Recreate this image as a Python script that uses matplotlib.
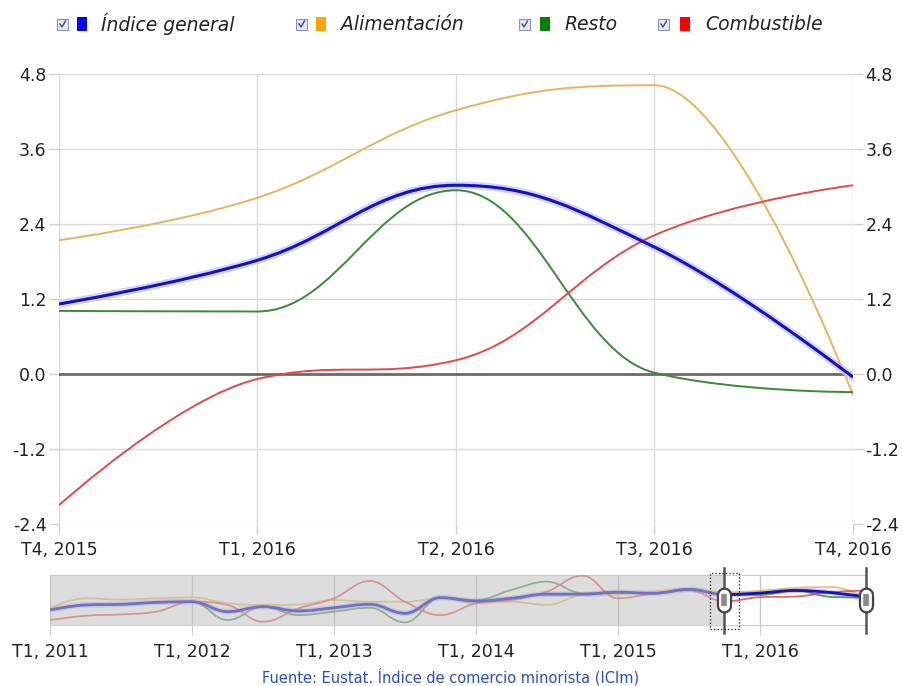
import matplotlib
matplotlib.use("Agg")
import matplotlib.pyplot as plt
from matplotlib.path import Path
from matplotlib.patches import PathPatch, Rectangle
from matplotlib.lines import Line2D
import matplotlib.transforms as mtrans
import numpy as np

# quarterly year-on-year change, T1 2011 .. T4 2016
nav_general = [-6.0, -3.7, -3.4, -2.5, -2.2, -6.8, -4.5, -6.5, -5.0, -3.4, -7.6, -0.3,
               -1.9, -0.6, 1.3, 1.3, 2.2, 1.7, 3.5, 1.12, 1.82, 3.02, 2.03, -0.05]
nav_alim = [-5.0, -0.6, -1.2, -0.6, -0.2, -2.9, -3.7, -3.5, -1.4, -2.2, -2.2, -0.6,
            -2.9, -2.2, -3.7, 0.9, 1.2, 2.5, 3.7, 2.14, 2.82, 4.22, 4.62, -0.34]
nav_resto = [-6.0, -3.7, -3.4, -2.5, -2.2, -10.7, -4.5, -8.4, -6.8, -5.0, -11.8, -0.3,
             -1.4, 3.3, 7.1, 1.7, 2.2, 1.7, 3.7, 1.01, 1.0, 2.94, 0.02, -0.29]
nav_comb = [-10.7, -8.7, -8.1, -6.8, -2.2, -3.7, -11.5, -5.3, -0.6, 7.4, -2.2, -8.4,
            -2.9, -1.4, 2.5, 9.9, -0.6, 1.7, 3.0, -2.1, -0.08, 0.22, 2.22, 3.02]

main_labels = ["T4, 2015", "T1, 2016", "T2, 2016", "T3, 2016", "T4, 2016"]
nav_labels = ["T1, 2011", "T1, 2012", "T1, 2013", "T1, 2014", "T1, 2015", "T1, 2016"]
yticks = [-2.4, -1.2, 0.0, 1.2, 2.4, 3.6, 4.8]
names = ["Índice general", "Alimentación", "Resto", "Combustible"]
legend_colors = ["#0000ff", "#ffa500", "#008000", "#ff0000"]
line_colors = ["#1212c4", "#e8b45c", "#3a8a3a", "#e24a4a"]
nav_series = [nav_general, nav_alim, nav_resto, nav_comb]
sel_start = 19  # T4 2015


def spline_path(xs, ys, smoothing=1.5):
    # highcharts style spline
    n = len(xs)
    denom = smoothing + 1
    lc = [None] * n
    rc = [None] * n
    for i in range(1, n - 1):
        px, py = xs[i], ys[i]
        lx, ly = xs[i - 1], ys[i - 1]
        nx, ny = xs[i + 1], ys[i + 1]
        lcx = (smoothing * px + lx) / denom
        lcy = (smoothing * py + ly) / denom
        rcx = (smoothing * px + nx) / denom
        rcy = (smoothing * py + ny) / denom
        corr = (rcy - lcy) * (rcx - px) / (rcx - lcx) + py - rcy
        lcy += corr
        rcy += corr
        if lcy > ly and lcy > py:
            lcy = max(ly, py); rcy = 2 * py - lcy
        elif lcy < ly and lcy < py:
            lcy = min(ly, py); rcy = 2 * py - lcy
        if rcy > ny and rcy > py:
            rcy = max(ny, py); lcy = 2 * py - rcy
        elif rcy < ny and rcy < py:
            rcy = min(ny, py); lcy = 2 * py - rcy
        lc[i] = (lcx, lcy)
        rc[i] = (rcx, rcy)
    verts = [(xs[0], ys[0])]
    codes = [Path.MOVETO]
    for i in range(1, n):
        c1 = rc[i - 1] if rc[i - 1] else (xs[i - 1], ys[i - 1])
        c2 = lc[i] if lc[i] else (xs[i], ys[i])
        verts += [c1, c2, (xs[i], ys[i])]
        codes += [Path.CURVE4] * 3
    return Path(verts, codes)


W, H = 903, 686
fig = plt.figure(figsize=(W / 100, H / 100), dpi=100)
plt.rcParams['font.family'] = ['DejaVu Sans']

# ---- main chart
ax = fig.add_axes([59 / W, 1 - 524 / H, 794 / W, 450 / H])
ax.set_xlim(0, 4)
ax.set_ylim(-2.4, 4.8)
for s in ax.spines.values():
    s.set_visible(False)
ax.set_xticks(range(5))
ax.set_xticklabels(main_labels)
ax.set_yticks(yticks)
ax.set_yticklabels(["%.1f" % v for v in yticks])
ax.grid(True, color="#d9d9d9", lw=1)
ax.tick_params(axis="both", colors="#cfcfcf", labelcolor="#222222", labelsize=12.5,
               length=7, width=1)
ax.tick_params(axis="y", pad=2, right=True, labelright=True)
ax.tick_params(axis="x", pad=5)
ax.axhline(0, color="#6b6b6b", lw=2, zorder=2)

main_x = list(range(5))
for ser, col in zip(nav_series, line_colors):
    p = spline_path(main_x, ser[-5:])
    if col == line_colors[0]:
        ax.add_patch(PathPatch(p, fill=False, edgecolor="#d4d4f6", lw=5.5, zorder=3,
                               capstyle="round"))
        ax.add_patch(PathPatch(p, fill=False, edgecolor=col, lw=2.2, zorder=5))
    else:
        ax.add_patch(PathPatch(p, fill=False, edgecolor=col, lw=1.4, zorder=4))

# ---- navigator
nav = fig.add_axes([50 / W, 1 - 625 / H, 816.5 / W, 50 / H])
nav.set_xlim(0, 23)
nav.set_ylim(-13.0, 10.2)
for k in ["left", "right"]:
    nav.spines[k].set_visible(False)
for k in ["top", "bottom"]:
    nav.spines[k].set_color("#d0d0d0")
nav.set_yticks([])
year_pos = [4 * i for i in range(len(nav_labels))]
nav.set_xticks(year_pos)
nav.set_xticklabels(nav_labels)
nav.tick_params(axis="x", colors="#cfcfcf", labelcolor="#222222", labelsize=12.5,
                length=7, pad=6)
for xp in year_pos:
    nav.axvline(xp, color="#c4c4c4", lw=1, zorder=1)

nav_x = list(range(len(nav_general)))
for ser, col in zip(nav_series, line_colors):
    p = spline_path(nav_x, ser)
    if col == line_colors[0]:
        nav.add_patch(PathPatch(p, fill=False, edgecolor="#9a9af2", lw=4, alpha=0.5, zorder=3))
        nav.add_patch(PathPatch(p, fill=False, edgecolor=col, lw=2.0, zorder=4))
    else:
        nav.add_patch(PathPatch(p, fill=False, edgecolor=col, lw=1.3, alpha=0.85, zorder=3))
# mask over the unselected range
nav.axvspan(0, sel_start, color="#c2c2c2", alpha=0.55, lw=0, zorder=5)

# handles
bt = mtrans.blended_transform_factory(nav.transData, nav.transAxes)
t = np.linspace(0, np.pi, 12)
hv = np.concatenate([np.c_[0.55 * np.cos(t), 0.45 + 0.55 * np.sin(t)],
                     np.c_[0.55 * np.cos(t + np.pi), -0.45 + 0.55 * np.sin(t + np.pi)]])
hv = np.vstack([hv, hv[:1]])
for hx in [sel_start, 23]:
    nav.add_line(Line2D([hx, hx], [-0.16, 1.14], transform=bt, color="#555555", lw=1.8,
                        clip_on=False, zorder=6))
    nav.plot([hx], [0.5], transform=bt, marker=Path(hv), ms=17, mfc="white",
             mec="#444444", mew=1.6, clip_on=False, zorder=7)
    nav.plot([hx], [0.5], transform=bt, marker="|", ms=9, mec="#8a8a8a", mew=4,
             clip_on=False, zorder=8)
nav.add_patch(Rectangle((sel_start - 0.42, -0.08), 0.84, 1.12, transform=bt, fill=False,
                        ls=(0, (1, 1.5)), ec="#333333", lw=1, clip_on=False, zorder=6))

# ---- legend
leg_x = [(57, 77, 101), (296, 316, 341), (519, 540, 565), (658, 680, 705)]
for (cbx, sqx, tx), name, col in zip(leg_x, names, legend_colors):
    fig.add_artist(Rectangle((cbx / W, 1 - 30 / H), 11 / W, 11 / H, transform=fig.transFigure,
                             fc="#e6eaf6", ec="#8a94b0", lw=0.8))
    fig.add_artist(Line2D([(cbx + 3) / W, (cbx + 5) / W, (cbx + 8.5) / W],
                          [1 - 24 / H, 1 - 27 / H, 1 - 21 / H], transform=fig.transFigure,
                          color="#3a4a80", lw=1))
    fig.add_artist(Rectangle((sqx / W, 1 - 31 / H), 10 / W, 14 / H, transform=fig.transFigure,
                             fc=col, ec="none"))
    fig.text(tx / W, 1 - 24 / H, name, fontsize=13.5, style="italic", color="#222222",
             va="center", ha="left")

fig.text(451 / W, 1 - 677 / H, "Fuente: Eustat. Índice de comercio minorista (ICIm)",
         fontsize=10.5, color="#2a4fc0", ha="center", va="center")

fig.savefig("out.png", dpi=100)
